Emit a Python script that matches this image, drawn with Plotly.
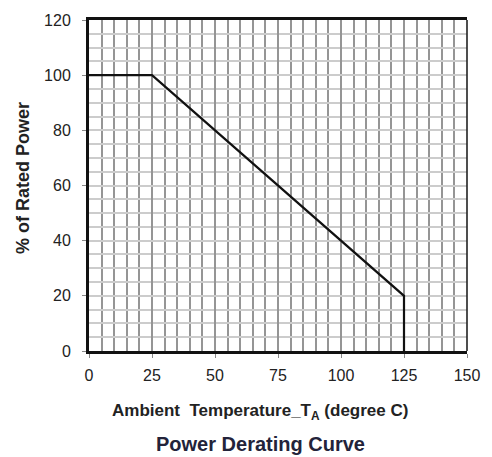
import plotly.graph_objects as go

temp_c = [0, 25, 125, 125]
rated_power_pct = [100, 100, 20, 0]
x_ticks = [0, 25, 50, 75, 100, 125, 150]
y_ticks = [0, 20, 40, 60, 80, 100, 120]

fig = go.Figure()
fig.add_trace(go.Scatter(x=temp_c, y=rated_power_pct, mode="lines",
                         line=dict(color="#111111", width=2.2), showlegend=False,
                         hoverinfo="skip"))

font_family = "Liberation Sans, Arial, sans-serif"
fig.update_layout(
    width=492, height=457,
    margin=dict(l=89, r=21, t=16, b=106),
    paper_bgcolor="white", plot_bgcolor="white",
    font=dict(family=font_family, color="#222222"),
    xaxis=dict(range=[0, 150], tickvals=x_ticks, ticktext=[str(v) for v in x_ticks],
               showgrid=True, gridcolor="#959595", gridwidth=1.7,
               minor=dict(dtick=5, tick0=0, showgrid=True, gridcolor="#959595", gridwidth=1.7),
               showline=True, linecolor="#111111", linewidth=3, mirror=True,
               ticks="outside", ticklen=4, tickcolor="#888888", tickwidth=1,
               ticklabelstandoff=4,
               tickfont=dict(size=16, color="#222222"), zeroline=False, fixedrange=True),
    yaxis=dict(range=[0, 120], tickvals=y_ticks, ticktext=[str(v) for v in y_ticks],
               showgrid=True, gridcolor="#cccccc", gridwidth=1.6,
               minor=dict(dtick=5, tick0=0, showgrid=True, gridcolor="#cccccc", gridwidth=1.6),
               showline=True, linecolor="#111111", linewidth=3,
               ticks="outside", ticklen=4, tickcolor="#888888", tickwidth=1,
               ticklabelstandoff=8,
               tickfont=dict(size=16, color="#222222"), zeroline=False, fixedrange=True),
    shapes=[dict(type="line", xref="x domain", yref="y domain", x0=1, x1=1, y0=0, y1=1,
                 line=dict(color="#222222", width=1.6))],
    annotations=[
        dict(text="<b>% of Rated Power</b>", textangle=-90, xref="paper", yref="paper",
             x=-0.175, y=0.522, xanchor="center", yanchor="middle", showarrow=False,
             font=dict(size=18, color="#222222")),
        dict(text="<b>Ambient  Temperature_T<sub>A</sub> (degree C)</b>", xref="paper", yref="paper",
             x=0.453, y=-0.185, xanchor="center", yanchor="middle", showarrow=False,
             font=dict(size=17, color="#222222")),
        dict(text="<b>Power Derating Curve</b>", xref="paper", yref="paper",
             x=0.455, y=-0.281, xanchor="center", yanchor="middle", showarrow=False,
             font=dict(size=20, color="#23233a")),
    ],
)

fig.write_html("out.html")
